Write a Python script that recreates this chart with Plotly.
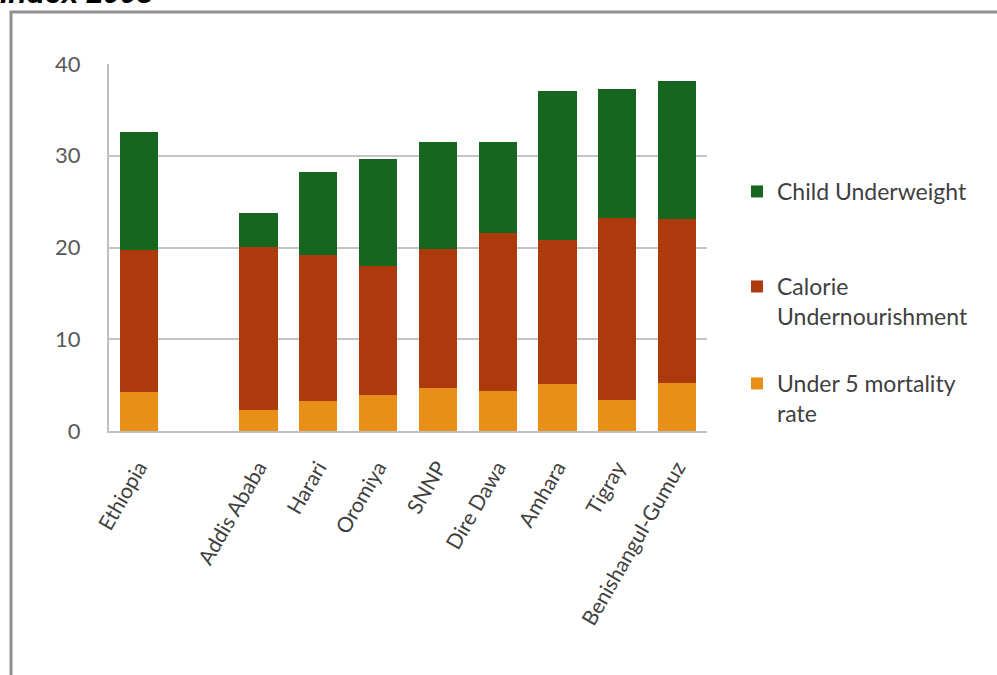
import plotly.graph_objects as go

# Regions (blank slot separates the national figure from the regions)
regions = ["Ethiopia", " ", "Addis Ababa", "Harari", "Oromiya", "SNNP",
           "Dire Dawa", "Amhara", "Tigray", "Benishangul-Gumuz"]

under5_mortality = [4.3, None, 2.3, 3.3, 3.9, 4.7, 4.4, 5.1, 3.4, 5.2]
calorie_undernourishment = [15.4, None, 17.8, 15.9, 14.1, 15.1, 17.2, 15.7, 19.8, 17.9]
child_underweight = [12.9, None, 3.7, 9.0, 11.7, 11.7, 9.9, 16.3, 14.1, 15.0]

y_ticks = [0, 10, 20, 30, 40]

W, H = 997, 675
L, R, T, B = 109, 290, 64, 244
pw, ph = W - L - R, H - T - B


def px_x(p):
    return (p - L) / pw


def px_y(p):
    return (H - B - p) / ph


FONT = "Lato"
TXT = "#595959"
LEG_TXT = "#404040"

fig = go.Figure()
# stacked bottom-to-top; each series gets its own legend box on the right
series = [
    ("Under 5 mortality<br>rate", under5_mortality, "#e88f17", "legend3"),
    ("Calorie<br>Undernourishment", calorie_undernourishment, "#ac3a0c", "legend2"),
    ("Child Underweight", child_underweight, "#16661f", "legend"),
]
for name, vals, col, leg in series:
    fig.add_trace(go.Bar(
        x=regions, y=vals, name=name, legend=leg, showlegend=True,
        marker=dict(color=col, line=dict(width=0)),
    ))


def legend_box(top_px):
    return dict(
        x=px_x(737), y=px_y(top_px), xanchor="left", yanchor="top",
        valign="top", font=dict(family=FONT, size=23, color=LEG_TXT),
        bgcolor="rgba(0,0,0,0)", itemwidth=30, visible=True,
    )


fig.update_layout(
    width=W, height=H,
    margin=dict(l=L, r=R, t=T, b=B, autoexpand=False),
    paper_bgcolor="white", plot_bgcolor="white",
    barmode="stack", bargap=0.36,
    font=dict(family=FONT, color=TXT),
    showlegend=True,
    legend=legend_box(170),
    legend2=legend_box(265),
    legend3=legend_box(362),
    xaxis=dict(
        type="category", categoryorder="array", categoryarray=regions,
        tickangle=-60, tickfont=dict(family=FONT, size=21, color=LEG_TXT),
        showline=True, linecolor="#bfbfbf", linewidth=2,
        ticks="", ticklabelstandoff=14, showgrid=False,
    ),
    yaxis=dict(
        range=[0, 40], tickvals=y_ticks, ticktext=[str(v) for v in y_ticks],
        tickfont=dict(family=FONT, size=22, color=TXT),
        showgrid=True, gridcolor="#c4c4c4", gridwidth=2,
        showline=True, linecolor="#bfbfbf", linewidth=2,
        ticks="", ticklabelstandoff=22, zeroline=False,
    ),
    shapes=[
        dict(type="rect", xref="paper", yref="paper",
             x0=px_x(11), x1=px_x(1010), y0=px_y(700), y1=px_y(12),
             line=dict(color="#8f8f8f", width=3), fillcolor="rgba(0,0,0,0)",
             layer="below"),
    ],
    annotations=[
        dict(text="<b><i>Index 2005</i></b>", xref="paper", yref="paper",
             x=px_x(-2), y=px_y(-7), xanchor="left", yanchor="middle",
             showarrow=False, font=dict(family="Liberation Sans", size=30,
                                        color="#000000")),
    ],
)

fig.write_html("out.html")
